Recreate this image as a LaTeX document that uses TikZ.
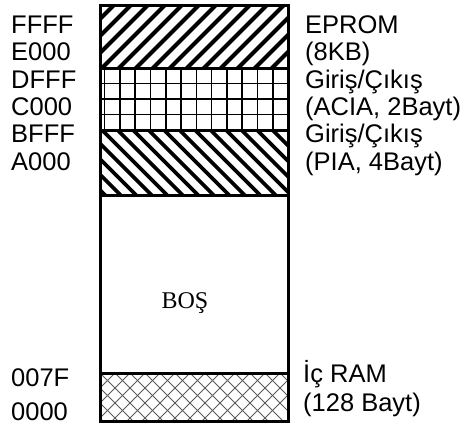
\documentclass[tikz,border=0pt]{standalone}
\usepackage{fontspec}
\setmainfont{Liberation Sans}
\newfontfamily\timesfont{Liberation Serif}
\begin{document}
\begin{tikzpicture}[x=1pt,y=-1pt,
  lab/.style={anchor=base west, inner sep=0pt, font=\fontsize{25.5}{27}\selectfont},
  bos/.style={anchor=base, inner sep=0pt, font=\timesfont\fontsize{24}{26}\selectfont},
  frame/.style={line width=3pt},
  hatch/.style={line width=4pt},
  hatchb/.style={line width=3.6pt},
  gridl/.style={line width=1.6pt},
  xhatch/.style={line width=1pt, black!65}]
\useasboundingbox (0,0) rectangle (467,426);
% region corners
\coordinate (L) at (100,0);
\coordinate (R) at (288,0);
% EPROM hatch
\begin{scope}
\clip (100,5) rectangle (288,68);
\foreach \i in {-5,...,12} \draw[hatch] (100+\i*17,70) -- ++(72,-72);
\end{scope}
% ACIA grid
\begin{scope}
\clip (100,68) rectangle (288,130);
\foreach \i in {0,...,11} \draw[gridl] (104.5+\i*15.3,68) -- ++(0,62);
\foreach \y in {83.5,99,114.5} \draw[gridl] (100,\y) -- (288,\y);
\end{scope}
% PIA hatch
\begin{scope}
\clip (100,130) rectangle (288,195);
\foreach \i in {-6,...,13} \draw[hatchb] (100+\i*15.5,128) -- ++(72,72);
\end{scope}
% RAM crosshatch
\begin{scope}
\clip (100,373) rectangle (288,421);
\foreach \i in {-4,...,14} {
  \draw[xhatch] (100+\i*15,373) -- ++(52,52);
  \draw[xhatch] (100+\i*15,373) -- ++(-52,52);
}
\end{scope}
% dividers and frame
\draw[frame] (100,68) -- (288,68);
\draw[frame] (100,130) -- (288,130);
\draw[frame] (100,195) -- (288,195);
\draw[frame] (100,373) -- (288,373);
\draw[frame] (100,5) rectangle (288,421);
% left labels
\node[lab] (a1) at (11,33.5) {FFFF};
\node[lab] (a2) at (11,60.8) {E000};
\node[lab] (a3) at (11,88.1) {DFFF};
\node[lab] (a4) at (11,115.4) {C000};
\node[lab] (a5) at (11,142.7) {BFFF};
\node[lab] (a6) at (11,170) {A000};
\node[lab] (a7) at (11,386.5) {007F};
\node[lab] (a8) at (11,420) {0000};
% right labels
\node[lab] (b1) at (305,33.5) {EPROM};
\node[lab] (b2) at (305,60.8) {(8KB)};
\node[lab] (b3) at (305,88.1) {Giriş/Çıkış};
\node[lab] (b4) at (305,115.4) {(ACIA, 2Bayt)};
\node[lab] (b5) at (305,142.7) {Giriş/Çıkış};
\node[lab] (b6) at (305,170) {(PIA, 4Bayt)};
\node[lab] (b7) at (303,382) {İç RAM};
\node[lab] (b8) at (303,411) {(128 Bayt)};
% empty
\node[bos] (bos) at (185,308) {BOŞ};
\end{tikzpicture}
\end{document}
